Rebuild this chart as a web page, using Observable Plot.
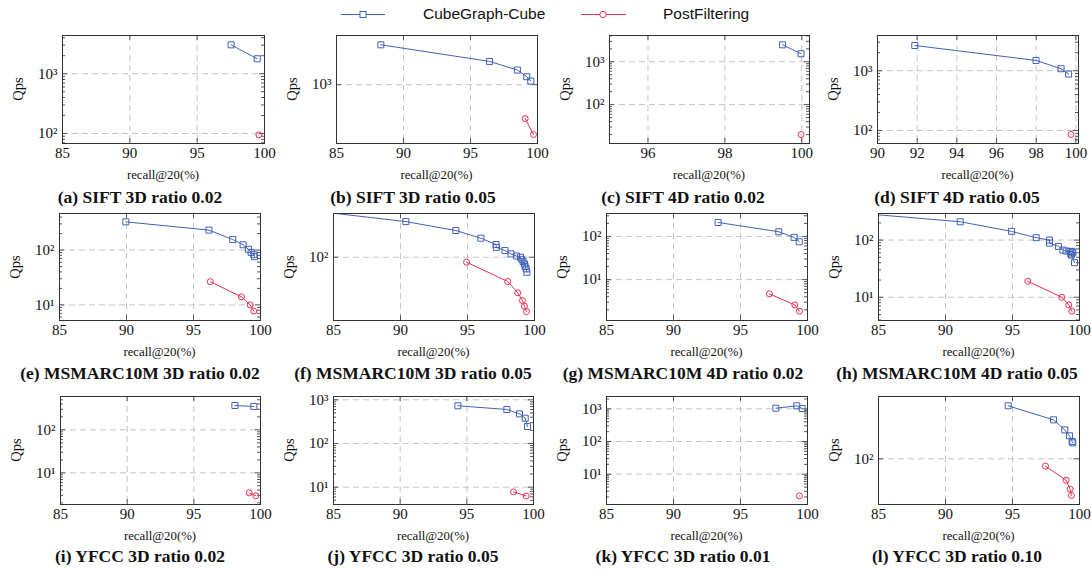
<!DOCTYPE html>
<html>
<head>
<meta charset="utf-8">
<script src="https://cdn.jsdelivr.net/npm/d3@7"></script>
<script src="https://cdn.jsdelivr.net/npm/@observablehq/plot@0.6"></script>
<style>
  html, body { margin: 0; padding: 0; background: #fff; }
  #root { position: relative; width: 1092px; height: 571px; overflow: hidden; background: #fff; }
  .cap { position: absolute; transform: translate(-50%, -50%); font-family: 'Liberation Serif', serif; font-weight: bold; font-size: 17.5px; white-space: nowrap; color: #111; }
  .xl { position: absolute; transform: translate(-50%, -50%); font-family: 'Liberation Serif', serif; font-size: 12.8px; white-space: nowrap; color: #111; }
  .yl { position: absolute; transform: translate(-50%, -50%) rotate(-90deg); font-family: 'Liberation Serif', serif; font-size: 14.5px; white-space: nowrap; color: #111; }
  .lg { position: absolute; transform: translateY(-50%); font-family: 'Liberation Sans', sans-serif; font-size: 15.5px; white-space: nowrap; color: #111; }
</style>
</head>
<body>
<div id="root"></div>
<script>
// ---------- data: [recall@20 (%), Qps] ----------
const seriesNames = ["CubeGraph-Cube", "PostFiltering"];
const captions = [
  "(a) SIFT 3D ratio 0.02", "(b) SIFT 3D ratio 0.05", "(c) SIFT 4D ratio 0.02", "(d) SIFT 4D ratio 0.05",
  "(e) MSMARC10M 3D ratio 0.02", "(f) MSMARC10M 3D ratio 0.05", "(g) MSMARC10M 4D ratio 0.02", "(h) MSMARC10M 4D ratio 0.05",
  "(i) YFCC 3D ratio 0.02", "(j) YFCC 3D ratio 0.05", "(k) YFCC 3D ratio 0.01", "(l) YFCC 3D ratio 0.10"
];
const xLabel = "recall@20(%)";
const yLabel = "Qps";

const aCube = [[97.52, 3041], [99.46, 1778]];
const aPost = [[99.58, 95]];
const bCube = [[88.31, 4640], [96.42, 2448], [98.5, 1756], [99.2, 1359], [99.5, 1151]];
const bPost = [[99.08, 271], [99.7, 147]];
const cCube = [[99.5, 2484], [99.98, 1535]];
const cPost = [[99.98, 20]];
const dCube = [[91.88, 2642], [97.99, 1486], [99.25, 1080], [99.63, 880]];
const dPost = [[99.75, 86]];
const eCube = [[89.95, 327], [96.15, 231], [97.93, 156], [98.7, 125], [99.1, 103], [99.3, 90.7], [99.5, 82.3], [99.55, 75.7]];
const ePost = [[96.25, 26.5], [98.58, 14], [99.23, 10], [99.5, 7.7]];
const fCube = [[82.5, 319], [90.4, 237], [94.13, 191], [96.0, 158.5], [97.13, 136], [97.15, 127], [97.8, 117.5], [98.25, 108.4], [98.65, 103], [98.95, 100], [99.05, 95], [99.15, 90], [99.25, 85], [99.3, 80], [99.38, 75.4], [99.43, 69.5]];
const fPost = [[94.93, 88.6], [98.0, 55.5], [98.75, 42.2], [99.1, 35], [99.25, 30.5], [99.4, 26.8]];
const gCube = [[93.33, 210], [97.86, 128], [99.0, 95], [99.38, 75]];
const gPost = [[97.16, 4.67], [99.05, 2.6], [99.4, 1.86]];
const hCube = [[82.5, 310], [91.1, 209], [94.93, 142], [96.77, 110], [97.76, 100], [97.76, 88.6], [98.43, 77.6], [98.76, 67], [99.0, 64.3], [99.3, 63.4], [99.45, 62.6], [99.5, 60], [99.35, 57], [99.4, 54.7], [99.63, 40.3]];
const hPost = [[96.14, 19], [98.68, 10], [99.2, 7.35], [99.43, 5.7]];
const iCube = [[98.08, 368], [99.5, 349]];
const iPost = [[99.15, 3.43], [99.65, 2.92]];
const jCube = [[94.33, 730], [98.0, 601], [98.95, 477], [99.38, 380], [99.55, 245]];
const jPost = [[98.5, 7.8], [99.45, 6.3]];
const kCube = [[97.64, 1048], [99.2, 1235], [99.6, 1024]];
const kPost = [[99.4, 2.17]];
const lCube = [[94.68, 460], [98.06, 307], [98.9, 230], [99.25, 194], [99.45, 165], [99.5, 158.5]];
const lPost = [[97.46, 81], [99.0, 54], [99.3, 41.8], [99.4, 34.8]];

const cubeSeries = [aCube, bCube, cCube, dCube, eCube, fCube, gCube, hCube, iCube, jCube, kCube, lCube];
const postSeries = [aPost, bPost, cPost, dPost, ePost, fPost, gPost, hPost, iPost, jPost, kPost, lPost];

// x domains / ticks, y domains (log10 exponents) per panel
const xDomains = [[85,100],[85,100],[95,100.2],[90,100.13],[85,100],[85,100],[85,100],[85,100],[85,100],[85,100],[85,100],[85,100]];
const xTickSets = [
  [85,90,95,100],[85,90,95,100],[96,98,100],[90,92,94,96,98,100],
  [85,90,95,100],[85,90,95,100],[85,90,95,100],[85,90,95,100],
  [85,90,95,100],[85,90,95,100],[85,90,95,100],[85,90,95,100]
];
const yExpDomains = [[1.833,3.639],[2.017,3.822],[1.093,3.612],[1.783,3.589],[0.715,2.667],[1.334,2.46],[0.054,2.53],[0.593,2.465],[0.264,2.775],[0.603,3.076],[0.071,3.378],[1.429,2.779]];
const showMinor = [true,false,true,true,true,false,true,true,true,true,true,false];

// ---------- layout (frame boxes in px) ----------
const frames = [
  [62,35,202,108],[336,35,201,108],[609,35,200,108],[877,35,201,108],
  [59,213,201,107],[333,213,201,107],[606,213,201,107],[878,213,201,107],
  [60,396,200,108],[333,396,200,108],[606,396,201,108],[878,396,201,108]
];
const capCenters = [140,413,683,957];
const capRows = [197,373,556];

const BLUE = "#4262b6";
const RED = "#e8304f";
const GRID = "#c4c4c4";
const TICK = "#555";

const root = document.getElementById("root");
const sup = {"-1":"⁻¹","0":"⁰","1":"¹","2":"²","3":"³","4":"⁴"};

function makePanel(i) {
  const [left, top, w, h] = frames[i];
  const xd = xDomains[i], xt = xTickSets[i];
  const [e0, e1] = yExpDomains[i];
  const ymin = 10 ** e0, ymax = 10 ** e1;
  const decades = d3.range(Math.ceil(e0), Math.floor(e1) + 1).map(k => 10 ** k);
  const minors = [];
  if (showMinor[i]) {
    for (let k = Math.floor(e0); k <= Math.ceil(e1); k++)
      for (let m = 2; m <= 9; m++) { const v = m * 10 ** k; if (v > ymin && v < ymax) minors.push(v); }
  }
  const dMaj = (xd[1] - xd[0]) * 5 / w, dMin = (xd[1] - xd[0]) * 3 / w;
  const fMaj = 10 ** ((e1 - e0) * 5 / h);
  const mL = 50, mR = 8, mT = 6, mB = 28;
  const acc = {x: d => d[0], y: d => d[1]};
  const svg = Plot.plot({
    width: w + mL + mR, height: h + mT + mB,
    marginLeft: mL, marginRight: mR, marginTop: mT, marginBottom: mB,
    style: {fontFamily: "'Liberation Serif', serif", fontSize: "15px", color: "#111", background: "transparent", overflow: "visible"},
    x: {domain: xd, ticks: xt, tickSize: 0, tickPadding: 4, label: null, tickFormat: d => String(d)},
    y: {type: "log", domain: [ymin, ymax], ticks: decades, tickSize: 0, tickPadding: 5, label: null,
        tickFormat: d => "10" + sup[String(Math.round(Math.log10(d)))]},
    marks: [
      Plot.ruleX(xt, {stroke: GRID, strokeDasharray: "6,4"}),
      Plot.ruleY(decades, {stroke: GRID, strokeDasharray: "6,4"}),
      Plot.ruleY(decades, {x1: xd[0], x2: xd[0] + dMaj, stroke: TICK}),
      Plot.ruleY(decades, {x1: xd[1] - dMaj, x2: xd[1], stroke: TICK}),
      Plot.ruleY(minors, {x1: xd[0], x2: xd[0] + dMin, stroke: TICK}),
      Plot.ruleY(minors, {x1: xd[1] - dMin, x2: xd[1], stroke: TICK}),
      Plot.ruleX(xt, {y1: ymin, y2: ymin * fMaj, stroke: TICK}),
      Plot.ruleX(xt, {y1: ymax / fMaj, y2: ymax, stroke: TICK}),
      Plot.line(postSeries[i], {...acc, stroke: RED, strokeWidth: 1, clip: true}),
      Plot.dot(postSeries[i], {...acc, r: 3, stroke: RED, fill: "none", strokeWidth: 1, clip: true}),
      Plot.line(cubeSeries[i], {...acc, stroke: BLUE, strokeWidth: 1, clip: true}),
      Plot.dot(cubeSeries[i], {...acc, symbol: "square", r: 3.4, stroke: BLUE, fill: "none", strokeWidth: 1, clip: true}),
      Plot.frame({stroke: "#333", strokeWidth: 1})
    ]
  });
  svg.style.position = "absolute";
  svg.style.left = (left - mL) + "px";
  svg.style.top = (top - mT) + "px";
  root.appendChild(svg);

  const xl = document.createElement("div");
  xl.className = "xl"; xl.textContent = xLabel;
  xl.style.left = (left + w / 2) + "px"; xl.style.top = (top + h + 32) + "px";
  root.appendChild(xl);

  const yl = document.createElement("div");
  yl.className = "yl"; yl.textContent = yLabel;
  yl.style.left = (left - 44) + "px"; yl.style.top = (top + h / 2) + "px";
  root.appendChild(yl);

  const cap = document.createElement("div");
  cap.className = "cap"; cap.textContent = captions[i];
  cap.style.left = capCenters[i % 4] + "px"; cap.style.top = capRows[Math.floor(i / 4)] + "px";
  root.appendChild(cap);
}

for (let i = 0; i < 12; i++) makePanel(i);

// ---------- legend ----------
const ns = "http://www.w3.org/2000/svg";
const lsvg = document.createElementNS(ns, "svg");
lsvg.setAttribute("width", 1092); lsvg.setAttribute("height", 30);
lsvg.style.position = "absolute"; lsvg.style.left = "0px"; lsvg.style.top = "0px";
function el(tag, attrs) { const e = document.createElementNS(ns, tag); for (const k in attrs) e.setAttribute(k, attrs[k]); lsvg.appendChild(e); return e; }
el("line", {x1: 341, x2: 385, y1: 14.5, y2: 14.5, stroke: BLUE, "stroke-width": 1});
el("rect", {x: 360, y: 11.5, width: 6, height: 6, stroke: BLUE, fill: "#fff", "stroke-width": 1});
el("line", {x1: 581, x2: 626, y1: 14.5, y2: 14.5, stroke: RED, "stroke-width": 1});
el("circle", {cx: 603, cy: 14.5, r: 3.2, stroke: RED, fill: "#fff", "stroke-width": 1});
root.appendChild(lsvg);
[[seriesNames[0], 423], [seriesNames[1], 663]].forEach(([t, x]) => {
  const d = document.createElement("div");
  d.className = "lg"; d.textContent = t; d.style.left = x + "px"; d.style.top = "14px";
  root.appendChild(d);
});
</script>
</body>
</html>
